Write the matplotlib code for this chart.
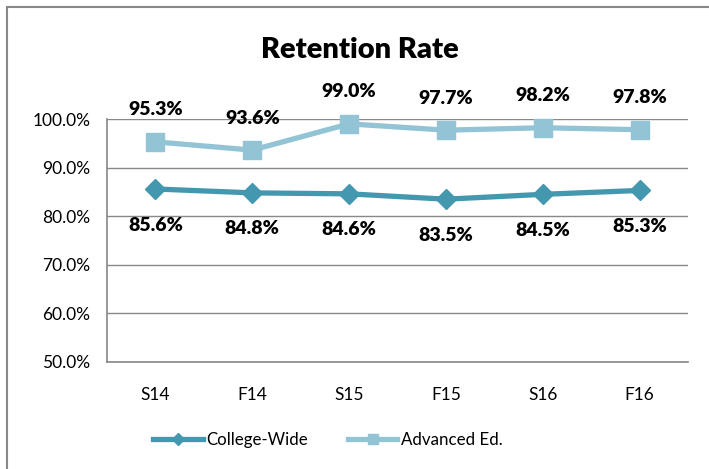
import matplotlib.pyplot as plt
from matplotlib.patches import Rectangle
from matplotlib.ticker import FuncFormatter

plt.rcParams['font.family'] = ['Lato', 'DejaVu Sans']

terms = ['S14', 'F14', 'S15', 'F15', 'S16', 'F16']
college_wide = [85.6, 84.8, 84.6, 83.5, 84.5, 85.3]
advanced_ed = [95.3, 93.6, 99.0, 97.7, 98.2, 97.8]

dark_teal = '#4397ae'
light_blue = '#93c4d6'

fig = plt.figure(figsize=(7.09, 4.69), dpi=100)
ax = fig.add_axes([107 / 709, 107 / 469, 581 / 709, 243 / 469])

x = range(len(terms))
ax.plot(x, college_wide, color=dark_teal, lw=3.8, marker='D', ms=10,
        clip_on=False, zorder=3, label='College-Wide')
ax.plot(x, advanced_ed, color=light_blue, lw=3.8, marker='s', ms=13,
        clip_on=False, zorder=3, label='Advanced Ed.')

for i, v in enumerate(college_wide):
    ax.annotate(f'{v:.1f}%', (i, v), xytext=(0, -26), textcoords='offset points',
                ha='center', va='center', fontsize=14, fontweight='heavy')
for i, v in enumerate(advanced_ed):
    ax.annotate(f'{v:.1f}%', (i, v), xytext=(0, 23), textcoords='offset points',
                ha='center', va='center', fontsize=14, fontweight='heavy')

ax.set_xlim(-0.5, len(terms) - 0.5)
ax.set_ylim(50, 100)
ax.set_yticks(range(50, 101, 10))
ax.yaxis.set_major_formatter(FuncFormatter(lambda v, p: f'{v:.1f}%'))
ax.set_xticks(list(x))
ax.set_xticklabels(terms)
ax.tick_params(length=0, labelsize=12.5)
ax.tick_params(axis='x', pad=18)
ax.tick_params(axis='y', pad=12)
ax.grid(axis='y', color='#888888', lw=1)
ax.set_axisbelow(True)
for s in ['top', 'right']:
    ax.spines[s].set_visible(False)
for s in ['left', 'bottom']:
    ax.spines[s].set_color('#888888')
    ax.spines[s].set_linewidth(1.2)

fig.text(360 / 709, 1 - 50 / 469, 'Retention Rate', ha='center', va='center',
         fontsize=21, fontweight='heavy')

fig.legend(loc='center', bbox_to_anchor=(328 / 709, 1 - 440 / 469), ncol=2,
           frameon=False, fontsize=12.2, handlelength=2.9, columnspacing=2.4,
           handletextpad=0.2, markerscale=0.6)

fig.add_artist(Rectangle((7 / 709, -0.1), 1.2, 1.1 - 7 / 469, transform=fig.transFigure,
                         fill=False, edgecolor='#888888', lw=1.5))

fig.savefig('out.png', dpi=100)
